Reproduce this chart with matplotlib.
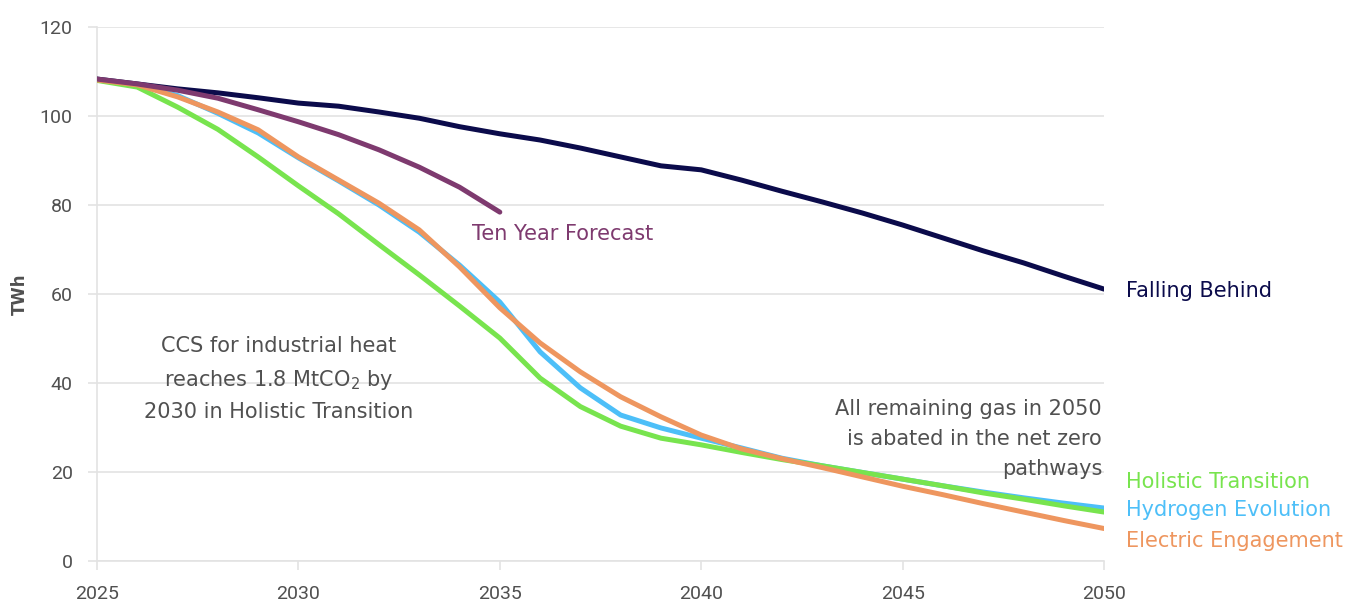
import matplotlib
matplotlib.use("Agg")
import matplotlib.pyplot as plt

plt.rcParams['font.family'] = ['DejaVu Sans']

# 数据
years = list(range(2025, 2051))
falling_behind = [108.3, 107.2, 106.1, 105.2, 104.1, 102.9, 102.2, 100.9, 99.5, 97.6,
                  96.0, 94.6, 92.8, 90.8, 88.8, 87.9, 85.6, 83.1, 80.7, 78.2,
                  75.5, 72.6, 69.7, 67.0, 64.0, 61.1]
ten_year_years = list(range(2025, 2036))
ten_year = [108.3, 107.2, 105.8, 104.0, 101.4, 98.7, 95.8, 92.4, 88.5, 84.0, 78.4]
holistic = [108.0, 106.5, 102.0, 97.0, 90.8, 84.3, 78.0, 71.1, 64.3, 57.3,
            50.1, 41.1, 34.7, 30.3, 27.6, 26.1, 24.4, 22.8, 21.4, 19.9,
            18.4, 16.9, 15.3, 13.9, 12.4, 11.0]
hydrogen = [108.1, 107.0, 104.6, 100.6, 96.2, 90.6, 85.4, 80.0, 73.9, 66.5,
            58.2, 47.0, 38.9, 32.8, 29.9, 27.6, 25.4, 23.1, 21.4, 19.9,
            18.4, 16.9, 15.5, 14.2, 13.0, 11.9]
electric = [108.1, 107.0, 104.3, 100.9, 96.9, 90.8, 85.6, 80.4, 74.4, 66.1,
            56.9, 49.0, 42.5, 36.9, 32.4, 28.3, 25.2, 23.0, 21.0, 18.9,
            16.8, 14.9, 12.9, 11.0, 9.1, 7.3]

c_navy = '#0b0b4b'
c_purple = '#7e3a6f'
c_green = '#78e44e'
c_blue = '#4dbff8'
c_orange = '#ee965f'
c_grid = '#e3e3e3'
c_text = '#505050'

fig = plt.figure(figsize=(13.51, 6.08), dpi=100)
ax = fig.add_axes([0.0718, 0.0773, 0.7454, 0.8783])

lw = 3.6
ax.plot(years, falling_behind, color=c_navy, lw=lw, solid_capstyle='round', zorder=3)
ax.plot(ten_year_years, ten_year, color=c_purple, lw=lw, solid_capstyle='round', zorder=4)
ax.plot(years, hydrogen, color=c_blue, lw=lw, solid_capstyle='round', zorder=3)
ax.plot(years, holistic, color=c_green, lw=lw, solid_capstyle='round', zorder=3)
ax.plot(years, electric, color=c_orange, lw=lw, solid_capstyle='round', zorder=3)

ax.set_xlim(2025, 2050)
ax.set_ylim(0, 120)
ax.set_xticks(range(2025, 2051, 5))
ax.set_yticks(range(0, 121, 20))
ax.grid(axis='y', color=c_grid, lw=1.2, zorder=0)
for s in ['top', 'right']:
    ax.spines[s].set_visible(False)
for s in ['left', 'bottom']:
    ax.spines[s].set_color(c_grid)
    ax.spines[s].set_linewidth(1.2)
ax.tick_params(axis='both', colors=c_grid, labelcolor=c_text, labelsize=14,
               length=6.5, width=1.2)
for lab in ax.get_xticklabels() + ax.get_yticklabels():
    lab.set_family('Roboto')
ax.tick_params(axis='x', pad=11)
ax.tick_params(axis='y', pad=11)
ax.set_ylabel('TWh', fontsize=12, fontweight='bold', color=c_text, labelpad=8)

# 线条标签
fs = 15
ax.text(2050.55, 60.6, 'Falling Behind', color=c_navy, fontsize=fs, va='center', ha='left')
ax.text(2034.3, 73.5, 'Ten Year Forecast', color=c_purple, fontsize=fs, va='center', ha='left')
ax.text(2050.55, 17.7, 'Holistic Transition', color=c_green, fontsize=fs, va='center', ha='left')
ax.text(2050.55, 11.4, 'Hydrogen Evolution', color=c_blue, fontsize=fs, va='center', ha='left')
ax.text(2050.55, 4.6, 'Electric Engagement', color=c_orange, fontsize=fs, va='center', ha='left')

# 注释
ax.text(2029.5, 40.9, 'CCS for industrial heat\nreaches 1.8 MtCO$_2$ by\n2030 in Holistic Transition',
        color=c_text, fontsize=fs, ha='center', va='center', linespacing=1.62)
ax.text(2049.95, 27.4, 'All remaining gas in 2050\nis abated in the net zero\npathways',
        color=c_text, fontsize=fs, ha='right', va='center', linespacing=1.62)

plt.savefig('out.png', dpi=100)
